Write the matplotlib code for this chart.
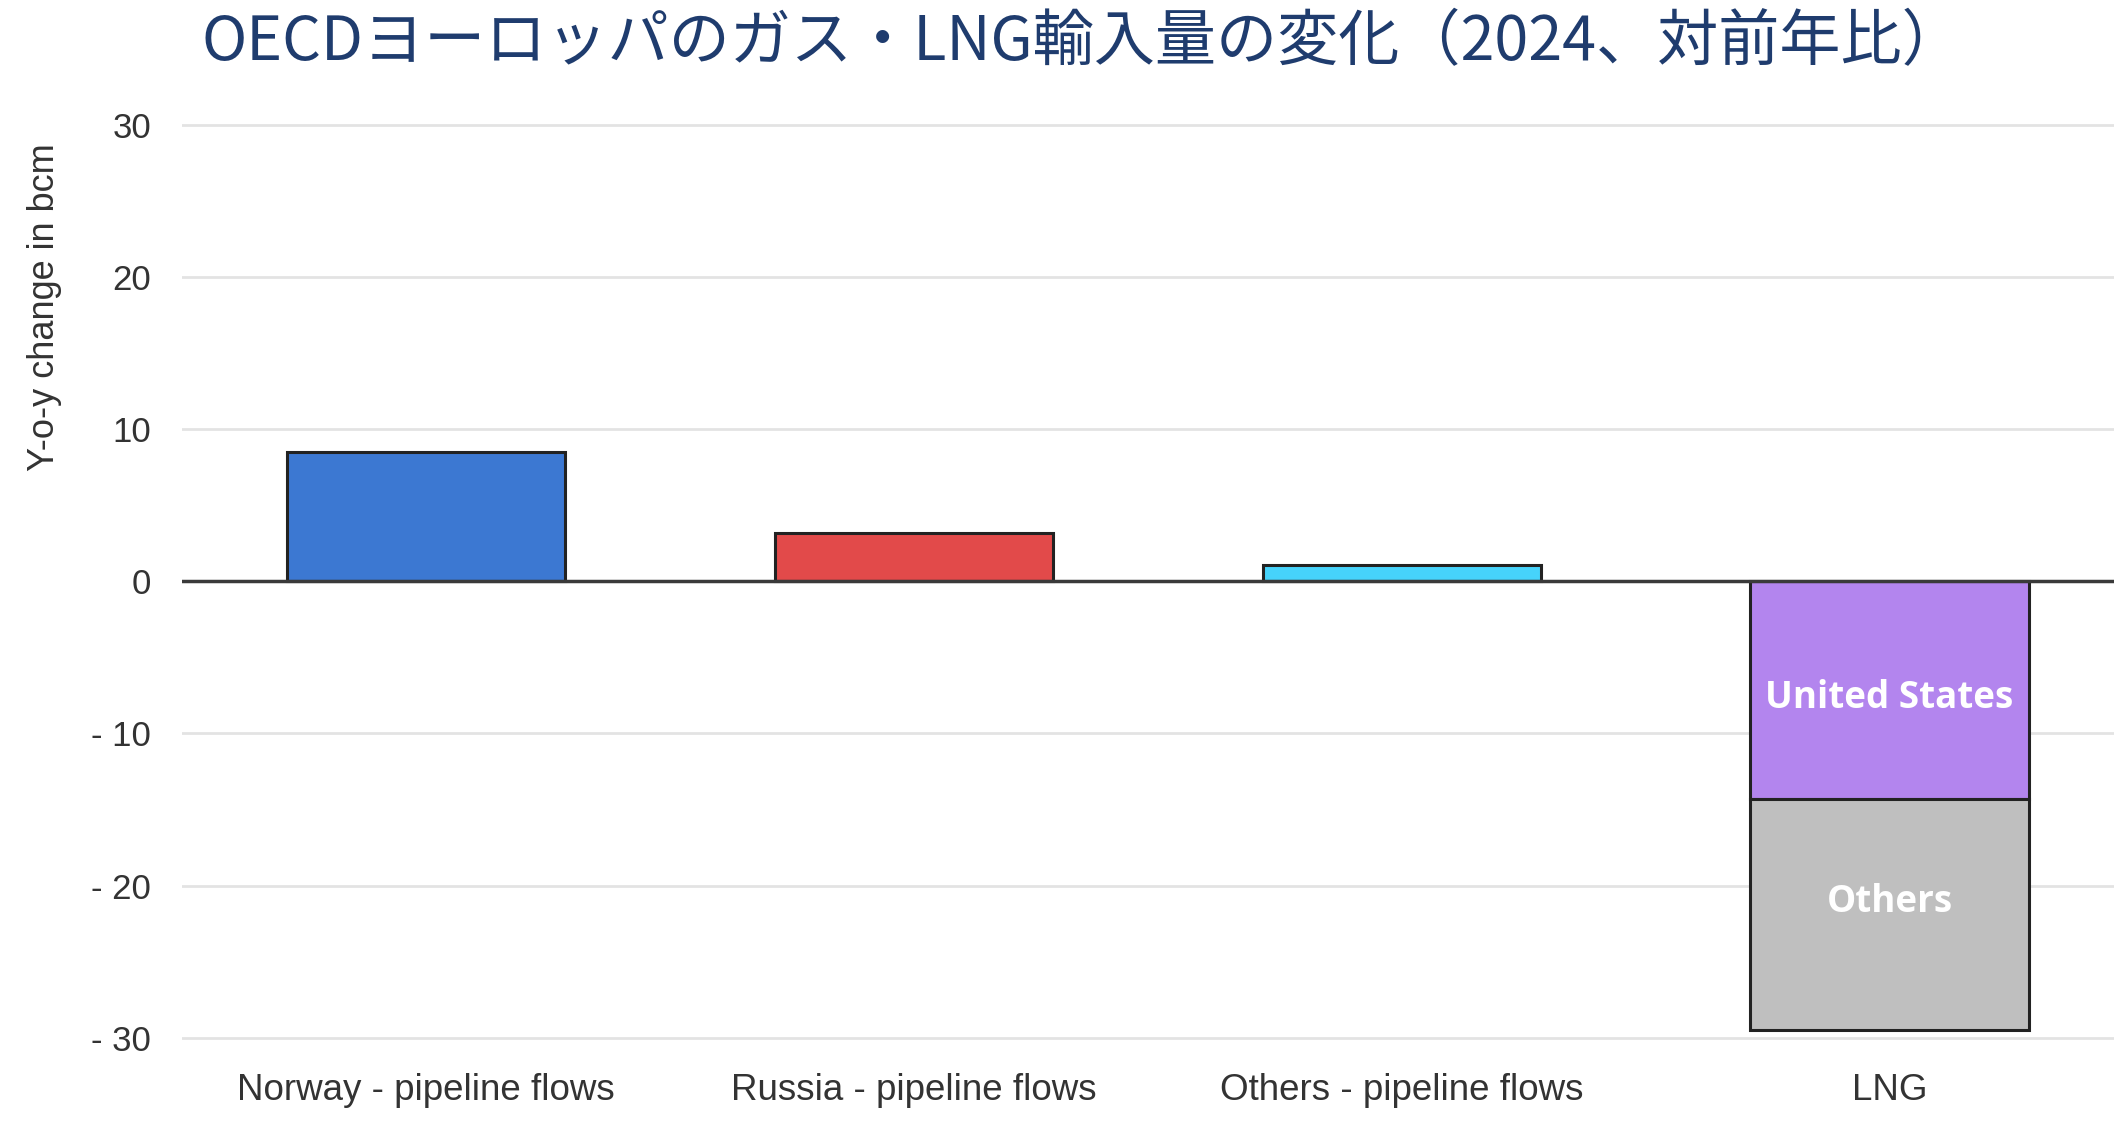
import matplotlib
matplotlib.use("Agg")
import matplotlib.pyplot as plt
import numpy as np

# data (bcm, y-o-y change)
categories = ["Norway - pipeline flows", "Russia - pipeline flows",
              "Others - pipeline flows", "LNG"]
pipeline_vals = [8.5, 3.2, 1.1]
pipeline_colors = ["#3C78D2", "#E24A4A", "#46D3FB"]
lng_us = -14.3
lng_others = -15.2
y_ticks = [-30, -20, -10, 0, 10, 20, 30]

plt.rcParams['font.family'] = ['Liberation Sans', 'DejaVu Sans']

fig = plt.figure(figsize=(21.14, 11.24), dpi=100)
ax = fig.add_axes([0.086, 0.070, 0.914, 0.8255])

x = np.arange(len(categories))
w = 0.57
edge = "#222222"

ax.bar(x[:3], pipeline_vals, width=w, color=pipeline_colors,
       edgecolor=edge, linewidth=2.2, zorder=3)
ax.bar(x[3], lng_us, width=w, color="#B385EE", edgecolor=edge,
       linewidth=2.2, zorder=3)
ax.bar(x[3], lng_others, bottom=lng_us, width=w, color="#BFBFBF",
       edgecolor=edge, linewidth=2.2, zorder=3)

seg_font = ['Open Sans', 'DejaVu Sans']
ax.text(x[3], lng_us / 2 - 0.5, "United States", ha='center', va='center',
        color='white', fontsize=26.5, fontweight='bold', family=seg_font, zorder=4)
ax.text(x[3], lng_us + lng_others / 2 + 0.8, "Others", ha='center', va='center',
        color='white', fontsize=26.5, fontweight='bold', family=seg_font, zorder=4)

ax.set_xlim(-0.5, 3.46)
ax.set_ylim(-30.5, 30.5)
ax.set_yticks(y_ticks)
ax.set_yticklabels([f"- {abs(t)}" if t < 0 else str(t) for t in y_ticks])
ax.set_xticks(x)
ax.set_xticklabels(categories)

for t in y_ticks:
    if t != 0:
        ax.axhline(t, color="#E3E3E3", linewidth=2, zorder=1)
ax.axhline(0, color="#3A3A3A", linewidth=2.5, zorder=4)

for s in ax.spines.values():
    s.set_visible(False)
ax.tick_params(axis='both', length=0, colors="#333333")
ax.tick_params(axis='y', labelsize=25, pad=22)
ax.tick_params(axis='x', labelsize=26.5, pad=20)

fig.text(0.021, 0.727, "Y-o-y change in bcm", rotation=90, ha='center',
         va='center', fontsize=26, color="#333333")

fig.text(0.512, 0.962, "OECDヨーロッパのガス・LNG輸入量の変化（2024、対前年比）",
         ha='center', va='center', fontsize=44, color="#1F3C6E",
         family=['Noto Sans CJK JP', 'DejaVu Sans'])

fig.savefig("out.png", dpi=100)
